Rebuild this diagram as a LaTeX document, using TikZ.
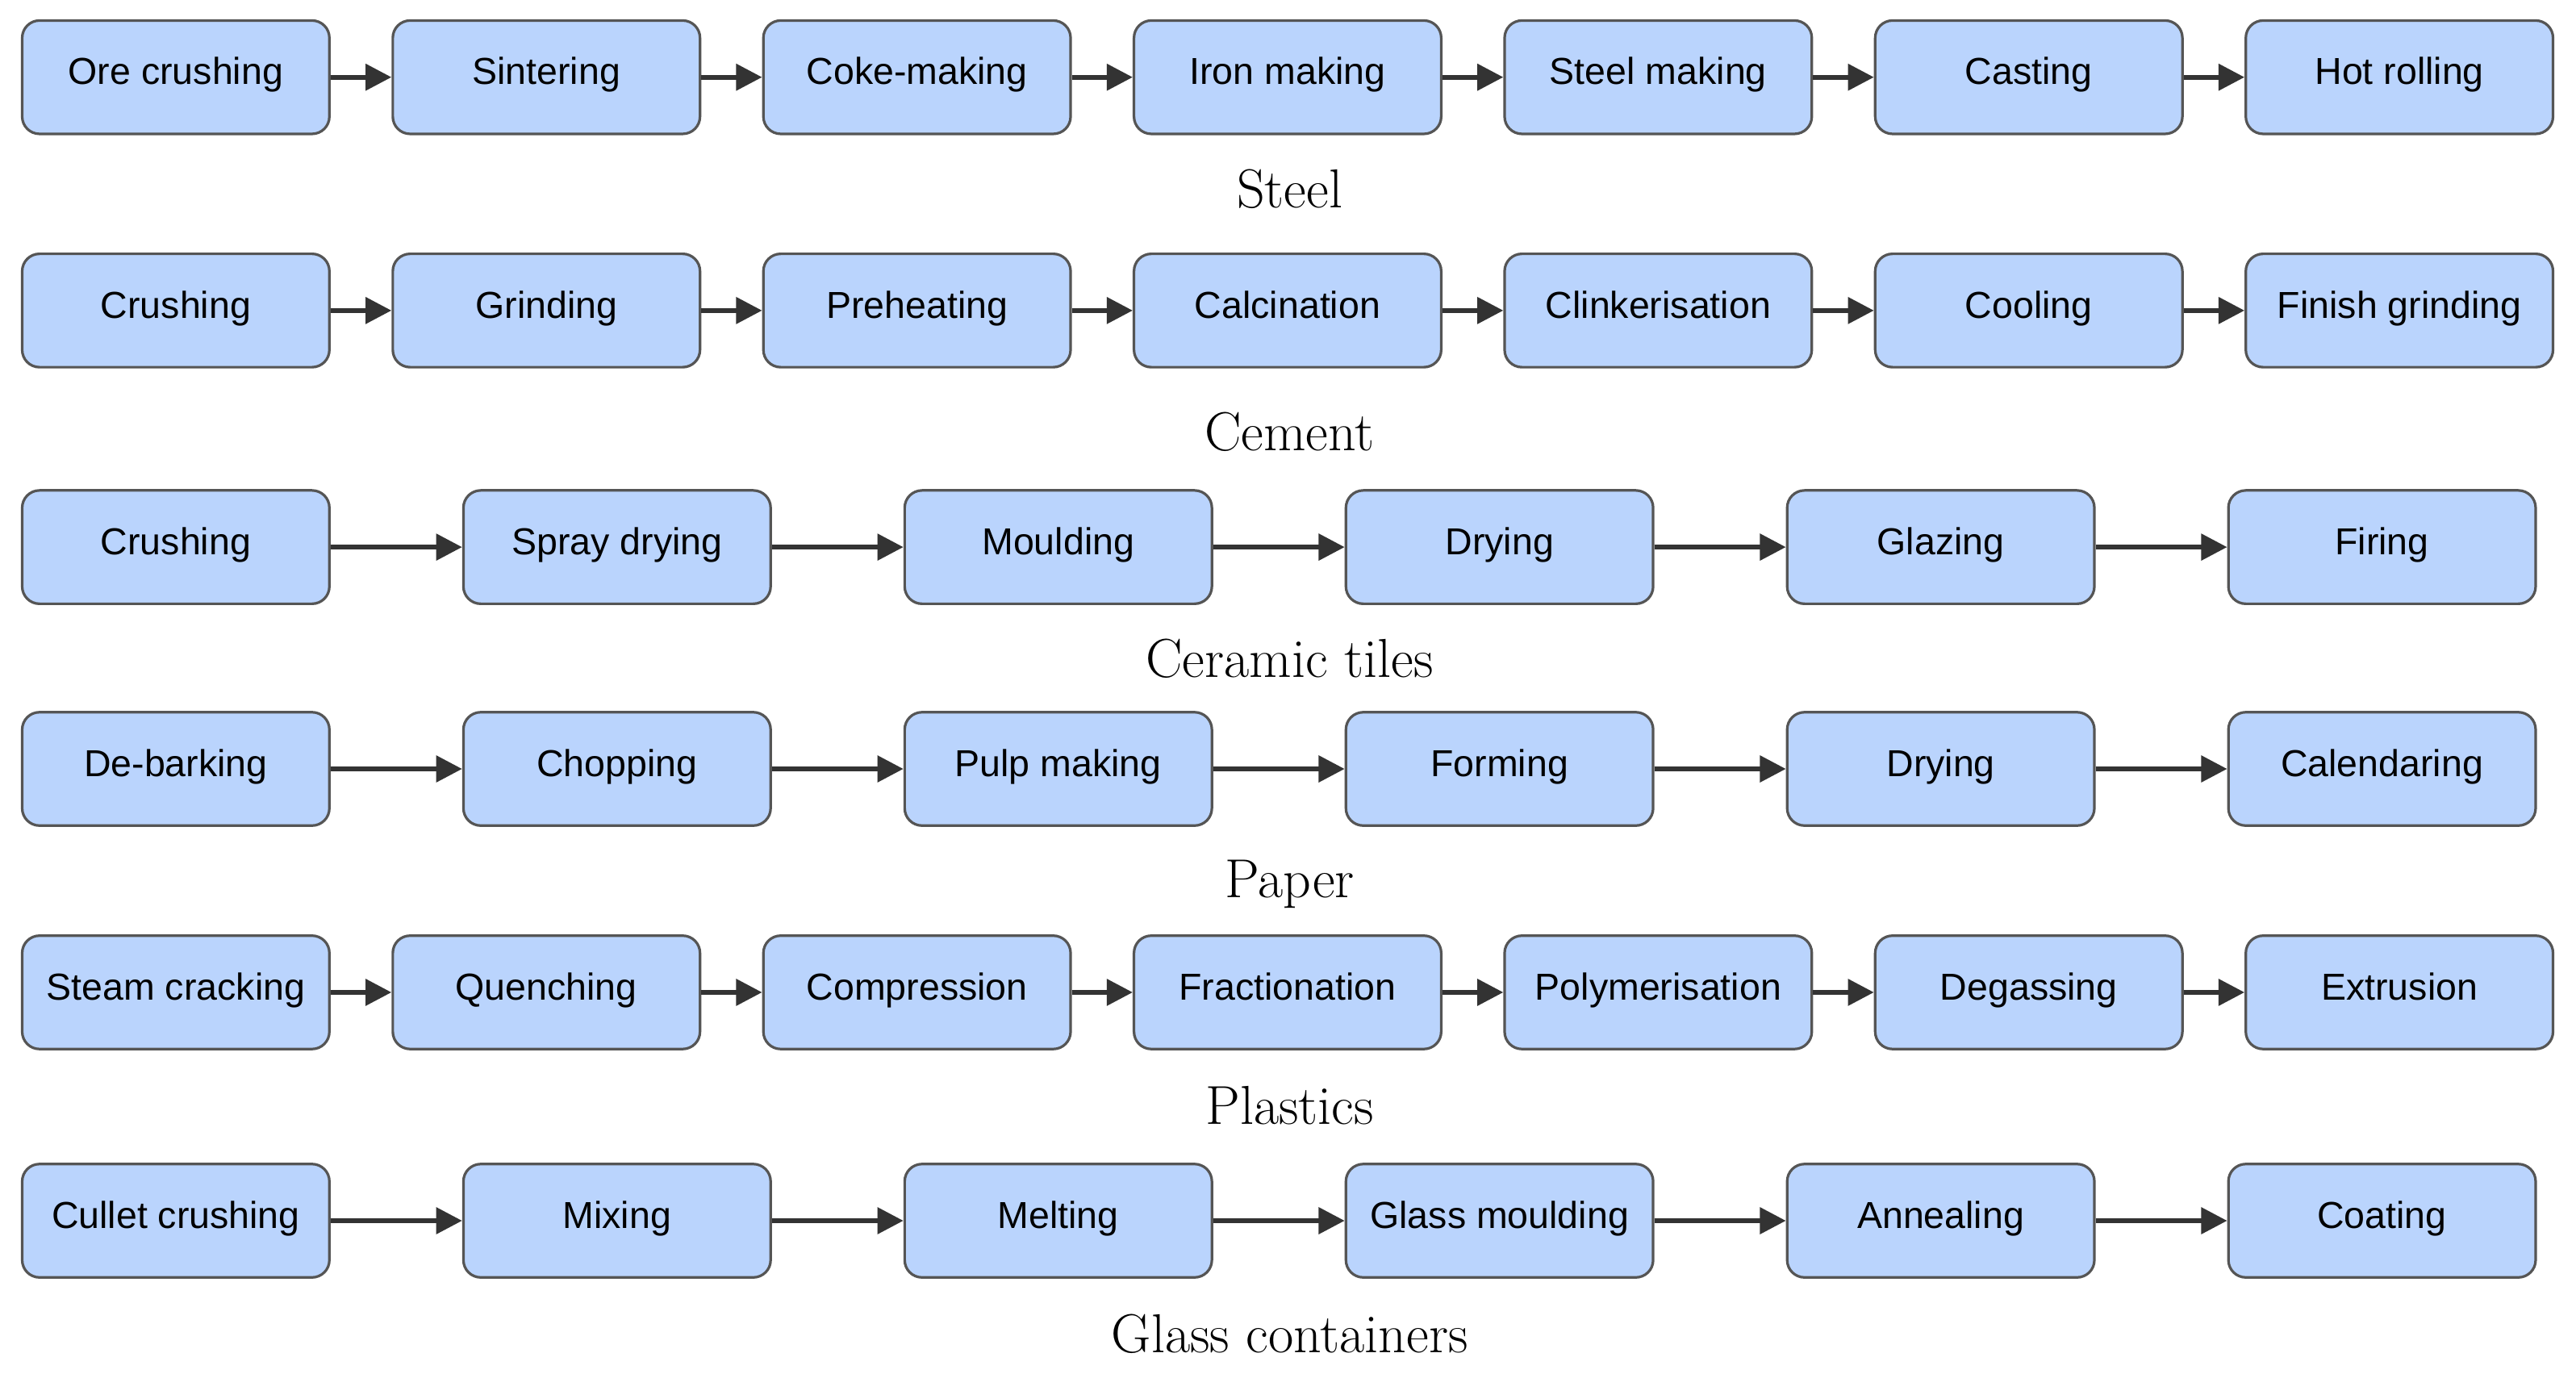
\documentclass[tikz,border=0pt]{standalone}
\usepackage{fontspec}
\newfontfamily\boxfont{Liberation Sans}
\usetikzlibrary{positioning, arrows.meta}
\definecolor{stepfill}{HTML}{BAD4FD}
\definecolor{stepdraw}{HTML}{555555}
\definecolor{arrowgray}{HTML}{333333}
\tikzstyle{procstep} = [rectangle, rounded corners=6pt, minimum width=3.74cm, minimum height=1.38cm, inner sep=1pt, text height=1.6ex, text depth=0.4ex, text centered, draw=stepdraw, line width=0.9pt, fill=stepfill, font=\boxfont\fontsize{13}{15}\selectfont]
\tikzstyle{industry} = [font=\fontsize{19}{22}\selectfont]
\tikzstyle{arrow} = [line width=1.6pt, draw=arrowgray, -{Triangle[length=9pt,width=9pt]}]
\begin{document}
\begin{tikzpicture}[node distance=0.74cm]
\useasboundingbox (0,0) rectangle (31.36,-16.72);

% Steel
\node (st1) [procstep] at (2.14,-0.94) {Ore crushing};
\node (st2) [procstep, right=of st1] {Sintering};
\node (st3) [procstep, right=of st2] {Coke-making};
\node (st4) [procstep, right=of st3] {Iron making};
\node (st5) [procstep, right=of st4] {Steel making};
\node (st6) [procstep, right=of st5] {Casting};
\node (st7) [procstep, right=of st6] {Hot rolling};
\node (stL) [industry] at (15.7,-2.3) {Steel};

% Cement
\node (ce1) [procstep] at (2.14,-3.78) {Crushing};
\node (ce2) [procstep, right=of ce1] {Grinding};
\node (ce3) [procstep, right=of ce2] {Preheating};
\node (ce4) [procstep, right=of ce3] {Calcination};
\node (ce5) [procstep, right=of ce4] {Clinkerisation};
\node (ce6) [procstep, right=of ce5] {Cooling};
\node (ce7) [procstep, right=of ce6] {Finish grinding};
\node (ceL) [industry] at (15.7,-5.26) {Cement};

% Ceramic tiles
\node (ct1) [procstep] at (2.14,-6.66) {Crushing};
\node (ct2) [procstep, right=1.6cm of ct1] {Spray drying};
\node (ct3) [procstep, right=1.6cm of ct2] {Moulding};
\node (ct4) [procstep, right=1.6cm of ct3] {Drying};
\node (ct5) [procstep, right=1.6cm of ct4] {Glazing};
\node (ct6) [procstep, right=1.6cm of ct5] {Firing};
\node (ctL) [industry] at (15.7,-8.02) {Ceramic tiles};

% Paper
\node (pa1) [procstep] at (2.14,-9.36) {De-barking};
\node (pa2) [procstep, right=1.6cm of pa1] {Chopping};
\node (pa3) [procstep, right=1.6cm of pa2] {Pulp making};
\node (pa4) [procstep, right=1.6cm of pa3] {Forming};
\node (pa5) [procstep, right=1.6cm of pa4] {Drying};
\node (pa6) [procstep, right=1.6cm of pa5] {Calendaring};
\node (paL) [industry] at (15.7,-10.76) {Paper};

% Plastics
\node (pl1) [procstep] at (2.14,-12.08) {Steam cracking};
\node (pl2) [procstep, right=of pl1] {Quenching};
\node (pl3) [procstep, right=of pl2] {Compression};
\node (pl4) [procstep, right=of pl3] {Fractionation};
\node (pl5) [procstep, right=of pl4] {Polymerisation};
\node (pl6) [procstep, right=of pl5] {Degassing};
\node (pl7) [procstep, right=of pl6] {Extrusion};
\node (plL) [industry] at (15.7,-13.46) {Plastics};

% Glass containers
\node (gl1) [procstep] at (2.14,-14.86) {Cullet crushing};
\node (gl2) [procstep, right=1.6cm of gl1] {Mixing};
\node (gl3) [procstep, right=1.6cm of gl2] {Melting};
\node (gl4) [procstep, right=1.6cm of gl3] {Glass moulding};
\node (gl5) [procstep, right=1.6cm of gl4] {Annealing};
\node (gl6) [procstep, right=1.6cm of gl5] {Coating};
\node (glL) [industry] at (15.7,-16.24) {Glass containers};

\draw [arrow] (st1) -- (st2);
\draw [arrow] (st2) -- (st3);
\draw [arrow] (st3) -- (st4);
\draw [arrow] (st4) -- (st5);
\draw [arrow] (st5) -- (st6);
\draw [arrow] (st6) -- (st7);

\draw [arrow] (ce1) -- (ce2);
\draw [arrow] (ce2) -- (ce3);
\draw [arrow] (ce3) -- (ce4);
\draw [arrow] (ce4) -- (ce5);
\draw [arrow] (ce5) -- (ce6);
\draw [arrow] (ce6) -- (ce7);

\draw [arrow] (ct1) -- (ct2);
\draw [arrow] (ct2) -- (ct3);
\draw [arrow] (ct3) -- (ct4);
\draw [arrow] (ct4) -- (ct5);
\draw [arrow] (ct5) -- (ct6);

\draw [arrow] (pa1) -- (pa2);
\draw [arrow] (pa2) -- (pa3);
\draw [arrow] (pa3) -- (pa4);
\draw [arrow] (pa4) -- (pa5);
\draw [arrow] (pa5) -- (pa6);

\draw [arrow] (pl1) -- (pl2);
\draw [arrow] (pl2) -- (pl3);
\draw [arrow] (pl3) -- (pl4);
\draw [arrow] (pl4) -- (pl5);
\draw [arrow] (pl5) -- (pl6);
\draw [arrow] (pl6) -- (pl7);

\draw [arrow] (gl1) -- (gl2);
\draw [arrow] (gl2) -- (gl3);
\draw [arrow] (gl3) -- (gl4);
\draw [arrow] (gl4) -- (gl5);
\draw [arrow] (gl5) -- (gl6);

\end{tikzpicture}
\end{document}
